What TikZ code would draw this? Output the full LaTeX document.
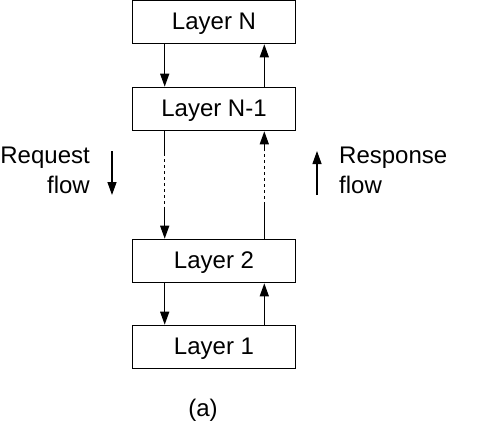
\documentclass[tikz,border=0pt]{standalone}
\usepackage{fontspec}
\setmainfont{Liberation Sans}
\usetikzlibrary{arrows.meta}
\begin{document}
\begin{tikzpicture}[x=1pt,y=-1pt,
  layerbox/.style={draw,line width=1.6pt,minimum width=163pt,minimum height=43pt,inner sep=0pt,text height=15pt,text depth=0pt,font=\fontsize{24}{28}\selectfont},
  lbl/.style={font=\fontsize{24}{30}\selectfont,inner sep=0pt},
  conn/.style={line width=1.3pt,-{Triangle[length=13pt,width=9pt]}},
  plain/.style={line width=1.3pt},
  dsh/.style={line width=1.2pt,dash pattern=on 3pt off 3pt}]
\useasboundingbox (0,0) rectangle (490,429);
\node[layerbox] (n) at (214,22) {Layer N};
\node[layerbox] (n1) at (214,109) {Layer N-1};
\node[layerbox] (l2) at (214,261) {Layer 2};
\node[layerbox] (l1) at (214,347) {Layer 1};
% N <-> N-1
\draw[conn] (n.south west) ++(33,0) coordinate (a1) -- (a1 |- n1.north);
\draw[conn] (n1.north east) ++(-32,0) coordinate (b1) -- (b1 |- n.south);
% N-1 <-> 2 dashed
\coordinate (c1) at ([xshift=33pt]n1.south west);
\coordinate (c2) at ([xshift=33pt,yshift=-22pt]n1.south west);
\coordinate (c3) at ([xshift=33pt,yshift=32pt]l2.north west);
\draw[plain] (c1) -- (c2);
\draw[dsh] (c2) -- (c3);
\draw[conn] (c3) -- (c3 |- l2.north);
\coordinate (d1) at ([xshift=-32pt]l2.north east);
\coordinate (d2) at ([xshift=-32pt,yshift=34pt]l2.north east);
\coordinate (d3) at ([xshift=-32pt,yshift=-20pt]n1.south east);
\draw[plain] (d1) -- (d2);
\draw[dsh] (d2) -- (d3);
\draw[conn] (d3) -- (d3 |- n1.south);
% 2 <-> 1
\draw[conn] (l2.south west) ++(33,0) coordinate (e1) -- (e1 |- l1.north);
\draw[conn] (l1.north east) ++(-32,0) coordinate (f1) -- (f1 |- l2.south);
% flow labels
\node[lbl,anchor=east,align=right] (req) at (90,170) {Request\\flow};
\coordinate (rq1) at (112,151);
\coordinate (rq2) at (112,195);
\draw[conn] (rq1) -- (rq2);
\node[lbl,anchor=west,align=left] (resp) at (339,170) {Response\\flow};
\coordinate (rs1) at (317,195);
\coordinate (rs2) at (317,151);
\draw[conn] (rs1) -- (rs2);
\node[lbl] (cap) at (203,410) {(a)};
\end{tikzpicture}
\end{document}
